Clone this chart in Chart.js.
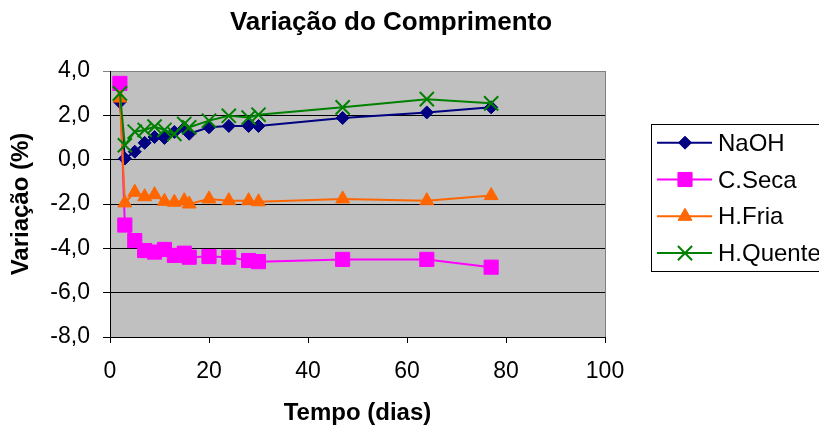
<!DOCTYPE html>
<html>
<head>
<meta charset="utf-8">
<script src="https://cdn.jsdelivr.net/npm/chart.js@4.4.1/dist/chart.umd.min.js"></script>
<style>
html,body{margin:0;padding:0;background:#fff;overflow:hidden;}
#wrap{width:819px;height:427px;overflow:hidden;}
</style>
</head>
<body>
<div id="wrap"><canvas id="c" width="819" height="427"></canvas></div>
<script>
// ---- data ----
const days = [2, 3, 5, 7, 9, 11, 13, 15, 16, 20, 24, 28, 30, 47, 64, 77];
const naoh = [2.6, 0.05, 0.36, 0.76, 1.02, 0.98, 1.25, 1.42, 1.17, 1.46, 1.52, 1.52, 1.52, 1.88, 2.13, 2.36];
const cSeca = [3.44, -2.95, -3.65, -4.1, -4.17, -4.05, -4.32, -4.22, -4.4, -4.37, -4.4, -4.55, -4.6, -4.5, -4.5, -4.85];
const hFria = [2.78, -1.95, -1.47, -1.67, -1.58, -1.88, -1.92, -1.85, -2.0, -1.77, -1.85, -1.85, -1.9, -1.77, -1.85, -1.62];
const hQuente = [2.99, 0.65, 1.26, 1.34, 1.49, 1.34, 1.16, 1.61, 1.46, 1.76, 1.98, 1.9, 2.03, 2.36, 2.73, 2.54];
const seriesNames = ['NaOH', 'C.Seca', 'H.Fria', 'H.Quente'];
const xTicks = [0, 20, 40, 60, 80, 100];
const yTicks = [-8, -6, -4, -2, 0, 2, 4];
const chartTitle = 'Variação do Comprimento';
const xTitle = 'Tempo (dias)';
const yTitle = 'Variação (%)';

const FONT = '"Liberation Sans", Arial, sans-serif';
const toPts = vals => vals.map((v, i) => ({x: days[i], y: v}));

const styles = [
  {color: '#000080', pointStyle: 'rectRot', radius: 6.5, order: 4},
  {color: '#FF00FF', pointStyle: 'rect', radius: 10, order: 3},
  {color: '#FF6600', pointStyle: 'triangle', radius: 8, order: 2},
  {color: '#008000', pointStyle: 'crossRot', radius: 10, order: 1}
];
const values = [naoh, cSeca, hFria, hQuente];

const datasets = values.map((vals, i) => ({
  label: seriesNames[i],
  data: toPts(vals),
  borderColor: styles[i].color,
  backgroundColor: styles[i].color,
  pointBackgroundColor: styles[i].color,
  pointBorderColor: styles[i].color,
  pointStyle: styles[i].pointStyle,
  pointRadius: styles[i].radius,
  pointBorderWidth: styles[i].pointStyle === 'crossRot' ? 2 : 1,
  borderWidth: 2,
  tension: 0,
  fill: false,
  order: styles[i].order
}));

const bgPlugin = {
  id: 'plotBg',
  beforeDraw(chart) {
    const {ctx, chartArea: a} = chart;
    ctx.save();
    ctx.fillStyle = '#C0C0C0';
    ctx.fillRect(a.left, a.top, a.right - a.left, a.bottom - a.top);
    ctx.restore();
  },
  beforeDatasetsDraw(chart) {
    const {ctx, chartArea: a} = chart;
    ctx.save();
    ctx.strokeStyle = '#808080';
    ctx.lineWidth = 1;
    ctx.beginPath();
    ctx.moveTo(Math.round(a.right) + 0.5, a.top);
    ctx.lineTo(Math.round(a.right) + 0.5, a.bottom);
    ctx.stroke();
    ctx.restore();
  }
};

const titleLegendPlugin = {
  id: 'titleLegend',
  afterDraw(chart) {
    const ctx = chart.ctx;
    ctx.save();
    // title
    ctx.fillStyle = '#000';
    ctx.font = 'bold 26px ' + FONT;
    ctx.textAlign = 'center';
    ctx.textBaseline = 'alphabetic';
    ctx.fillText(chartTitle, 391, 30);
    // legend box (runs past the right edge, as in the reference)
    ctx.strokeStyle = '#000';
    ctx.lineWidth = 1;
    ctx.strokeRect(651.5, 124.5, 300, 147);
    chart.data.datasets.forEach((ds, i) => {
      const yc = 142.7 + i * 36.8;
      ctx.strokeStyle = ds.borderColor;
      ctx.lineWidth = 2;
      ctx.beginPath();
      ctx.moveTo(657, yc);
      ctx.lineTo(712, yc);
      ctx.stroke();
      ctx.fillStyle = ds.pointBackgroundColor;
      ctx.strokeStyle = ds.pointBorderColor;
      ctx.lineWidth = ds.pointBorderWidth;
      Chart.helpers.drawPoint(ctx, {pointStyle: ds.pointStyle, radius: ds.pointRadius, rotation: 0, borderWidth: ds.pointBorderWidth}, 685, yc);
      ctx.fillStyle = '#000';
      ctx.font = '24px ' + FONT;
      ctx.textAlign = 'left';
      ctx.textBaseline = 'alphabetic';
      ctx.fillText(ds.label, 718, yc + 8);
    });
    ctx.restore();
  }
};

new Chart(document.getElementById('c'), {
  type: 'line',
  data: {datasets},
  options: {
    responsive: false,
    animation: false,
    devicePixelRatio: 1,
    layout: {padding: {left: 0, right: 214, top: 71, bottom: 0}},
    plugins: {legend: {display: false}, title: {display: false}, tooltip: {enabled: false}},
    scales: {
      x: {
        type: 'linear',
        min: 0, max: 100,
        afterFit(scale) { scale.height = 90; },
        afterBuildTicks(scale) { scale.ticks = xTicks.map(v => ({value: v})); },
        ticks: {color: '#000', font: {family: FONT, size: 23}, padding: 15, maxRotation: 0, callback: v => String(v)},
        grid: {drawOnChartArea: false, drawTicks: true, tickLength: 6, color: '#000'},
        border: {display: true, color: '#000', width: 1},
        title: {display: true, text: xTitle, color: '#000', font: {family: FONT, size: 24, weight: 'bold', lineHeight: 1}, padding: {top: 0, bottom: 2}}
      },
      y: {
        type: 'linear',
        min: -8, max: 4,
        afterFit(scale) { scale.width = 110; },
        afterBuildTicks(scale) { scale.ticks = yTicks.map(v => ({value: v})); },
        ticks: {color: '#000', font: {family: FONT, size: 23}, padding: 13, callback: v => v.toFixed(1).replace('.', ',')},
        grid: {drawTicks: true, tickLength: 7, color: ctx => (ctx.tick && ctx.tick.value === 4) ? '#808080' : '#000', lineWidth: 1},
        border: {display: true, color: '#000', width: 1},
        title: {display: true, text: yTitle, color: '#000', font: {family: FONT, size: 24, weight: 'bold', lineHeight: 1}, padding: {top: 9, bottom: 0}}
      }
    }
  },
  plugins: [bgPlugin, titleLegendPlugin]
});
</script>
</body>
</html>
